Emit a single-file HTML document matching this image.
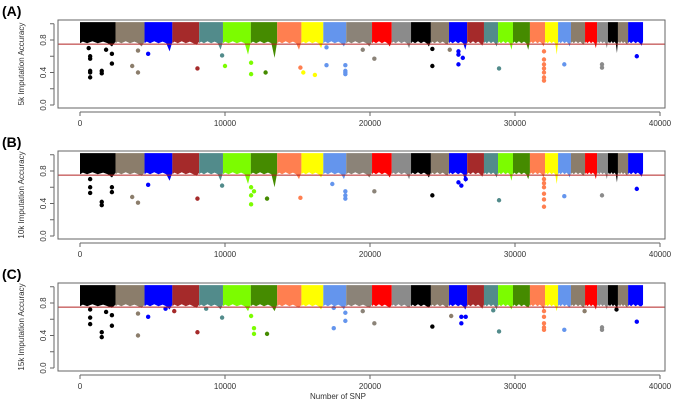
<!DOCTYPE html>
<html><head><meta charset="utf-8"><style>
body{margin:0;background:#fff;}
svg{display:block;font-family:"Liberation Sans",sans-serif;}
</style></head><body>
<svg id="c" width="676" height="411" viewBox="0 0 676 411"></svg>
<script>
const chromStarts=[0,2450,4450,6370,8220,9860,11780,13600,15270,16780,18360,20140,21500,22830,24200,25450,26700,27860,28830,29860,31030,32070,32970,33860,34830,35660,36410,37100,37800];
const chromEnds=[2450,4450,6370,8220,9860,11780,13600,15270,16780,18360,20140,21500,22830,24200,25450,26700,27860,28830,29860,31030,32070,32970,33860,34830,35660,36410,37100,37800,38830];
const chromColors=["#000000","#8b7d6b","#0000ff","#a52a2a","#528b8b","#7cfc00","#458b00","#ff7f50","#ffff00","#6495ed","#8b8378","#ff0000","#8b8b8b","#000000","#8b7d6b","#0000ff","#a52a2a","#528b8b","#7cfc00","#458b00","#ff7f50","#ffff00","#6495ed","#8b7d6b","#ff0000","#8b8b8b","#000000","#8b7d6b","#0000ff"];
const dipsA=[0.72,0.72,0.66,0.74,0.68,0.62,0.58,0.68,0.7,0.72,0.72,0.72,0.7,0.72,0.74,0.68,0.73,0.72,0.68,0.68,0.72,0.62,0.72,0.74,0.70,0.70,0.64,0.74,0.73];
const dipsB=[0.72,0.74,0.68,0.74,0.68,0.64,0.60,0.70,0.72,0.70,0.72,0.72,0.70,0.72,0.74,0.66,0.73,0.72,0.68,0.70,0.72,0.64,0.72,0.74,0.70,0.70,0.66,0.74,0.73];
const dipsC=[0.74,0.74,0.72,0.74,0.72,0.70,0.70,0.74,0.72,0.72,0.74,0.74,0.74,0.74,0.74,0.72,0.73,0.72,0.72,0.74,0.72,0.70,0.74,0.74,0.72,0.72,0.72,0.74,0.76];
const outA=[[700,0.6,0],[700,0.57,0],[700,0.42,0],[700,0.4,0],[700,0.34,0],[1500,0.42,0],[1500,0.39,0],[1800,0.68,0],[2200,0.63,0],[2200,0.51,0],[600,0.7,0],[3600,0.48,1],[4000,0.4,1],[4000,0.67,1],[4700,0.63,2],[8100,0.45,3],[9800,0.61,4],[10000,0.48,5],[11800,0.52,5],[11800,0.38,5],[12800,0.4,6],[15200,0.46,7],[15400,0.4,8],[16200,0.37,8],[17000,0.71,9],[17000,0.49,9],[18300,0.38,9],[18300,0.4,9],[18300,0.42,9],[18300,0.49,9],[19500,0.68,10],[20300,0.57,10],[24300,0.69,13],[24300,0.48,13],[25500,0.68,14],[26100,0.66,15],[26100,0.62,15],[26400,0.58,15],[26100,0.5,15],[28900,0.45,17],[32000,0.66,20],[32000,0.56,20],[32000,0.5,20],[32000,0.45,20],[32000,0.4,20],[32000,0.34,20],[32000,0.3,20],[33400,0.5,22],[36000,0.5,25],[36000,0.46,25],[38400,0.6,28]];
const outB=[[700,0.7,0],[700,0.6,0],[700,0.53,0],[1500,0.42,0],[1500,0.38,0],[2200,0.6,0],[2200,0.54,0],[3600,0.48,1],[4000,0.41,1],[4700,0.63,2],[8100,0.46,3],[9800,0.62,4],[11800,0.6,5],[11800,0.5,5],[11800,0.39,5],[12000,0.55,5],[12900,0.46,6],[15200,0.47,7],[17400,0.64,9],[18300,0.55,9],[18300,0.5,9],[18300,0.46,9],[20300,0.55,10],[24300,0.5,13],[26100,0.66,15],[26300,0.62,15],[26600,0.7,15],[28900,0.44,17],[32000,0.7,20],[32000,0.65,20],[32000,0.6,20],[32000,0.52,20],[32000,0.45,20],[32000,0.36,20],[33400,0.49,22],[36000,0.5,25],[38400,0.58,28]];
const outC=[[700,0.72,0],[700,0.62,0],[700,0.54,0],[1500,0.44,0],[1500,0.38,0],[1800,0.69,0],[2200,0.65,0],[2200,0.52,0],[4000,0.67,1],[4000,0.4,1],[4700,0.63,2],[5900,0.73,2],[6500,0.7,3],[8100,0.44,3],[8700,0.73,4],[9800,0.62,4],[11800,0.64,5],[12000,0.49,5],[12000,0.42,5],[12900,0.42,6],[17500,0.49,9],[17500,0.74,9],[18300,0.68,9],[18300,0.58,9],[19500,0.7,10],[20300,0.55,10],[24300,0.51,13],[25600,0.64,14],[26300,0.63,15],[26600,0.63,15],[26300,0.55,15],[28500,0.71,17],[28900,0.45,17],[32000,0.7,20],[32000,0.63,20],[32000,0.55,20],[32000,0.5,20],[32000,0.47,20],[33400,0.47,22],[34800,0.7,23],[36000,0.5,25],[36000,0.47,25],[37000,0.72,26],[38400,0.57,28]];
const xTicks=[0,10000,20000,30000,40000];
const yTicks=[0,0.2,0.4,0.6,0.8,1.0];
const yTickLabels=["0.0","","0.4","","0.8",""];
const panelLabels=["(A)","(B)","(C)"];
const yTitles=["5k Imputation Accuracy","10k Imputation Accuracy","15k Imputation Accuracy"];
const threshold=0.75;

const svg=document.getElementById('c');
const NS="http://www.w3.org/2000/svg";
function mk(t,a,p){const e=document.createElementNS(NS,t);for(const k in a)e.setAttribute(k,a[k]);(p||svg).appendChild(e);return e;}
const X=v=>80+v*(580/40000);
const offs=[0,131,263];
const dipsAll=[dipsA,dipsB,dipsC];
const outAll=[outA,outB,outC];
offs.forEach((o,pi)=>{
  const Y=v=>105+o-v*81.25;
  const g=mk('g',{});
  
  
  const lab=mk('text',{x:2,y:16+o,'font-size':14,'font-weight':'bold',fill:'#000'},g);lab.textContent=panelLabels[pi];
  
  chromStarts.forEach((s,i)=>{
    const e=chromEnds[i],w=e-s,b=0.77,d=dipsAll[pi][i];
    const pts=[[s,1.02],[e,1.02],[e,b+0.01],[e-w*0.1,d],[e-w*0.22,b-0.01],[e-w*0.35,b+0.01],[s+w*0.5,b-0.01],[s+w*0.35,b+0.015],[s+w*0.2,b-0.01],[s+w*0.08,b+0.01],[s,b-0.01]];
    const p=mk('polygon',{points:pts.map(q=>X(q[0])+','+Y(q[1])).join(' '),fill:chromColors[i]},g);
    
  });
  outAll[pi].forEach(q=>{
    const c=mk('circle',{cx:X(q[0]),cy:Y(q[1]),r:2.2,fill:chromColors[q[2]]},g);
    
  });
  const th=mk('line',{x1:58,x2:665,y1:Y(threshold),y2:Y(threshold),stroke:'#b22222','stroke-width':1},g);
  
  const box=mk('rect',{x:58,y:20+o,width:607,height:88,fill:'none',stroke:'#666','stroke-width':1},g);
  
  const ax=mk('line',{x1:X(0),x2:X(40000),y1:112+o,y2:112+o,stroke:'#666'},g);
  
  xTicks.forEach(t=>{
    mk('line',{x1:X(t),x2:X(t),y1:112+o,y2:116+o,stroke:'#666'},g);
    const tx=mk('text',{x:X(t),y:126+o,'font-size':8,'text-anchor':'middle',fill:'#333'},g);tx.textContent=t;
    
  });
  mk('line',{x1:54,x2:54,y1:Y(0),y2:Y(1.0),stroke:'#666'},g);
  yTicks.forEach((t,i)=>{
    mk('line',{x1:50,x2:54,y1:Y(t),y2:Y(t),stroke:'#666'},g);
    if(yTickLabels[i]){const tx=mk('text',{x:46,y:Y(t),'font-size':8,'text-anchor':'middle',fill:'#333',transform:`rotate(-90 46 ${Y(t)})`},g);tx.textContent=yTickLabels[i];
    }
  });
  const yt=mk('text',{x:24,y:64+o,'font-size':8,'text-anchor':'middle',fill:'#333',transform:`rotate(-90 24 ${64+o})`},g);yt.textContent=yTitles[pi];
  
});
const xt=mk('text',{x:338,y:399,'font-size':8,'text-anchor':'middle',fill:'#333'});xt.textContent="Number of SNP";


</script>
</body></html>
